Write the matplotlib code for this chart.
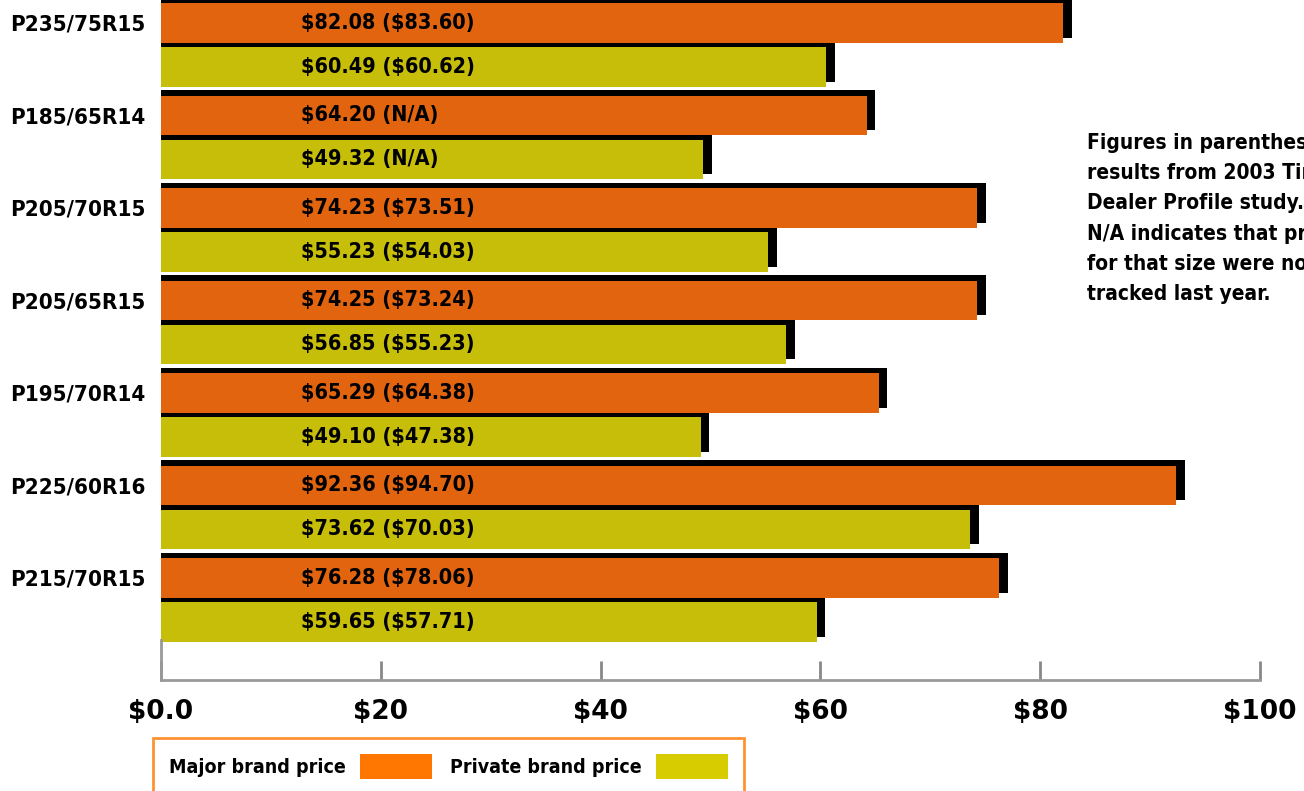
import matplotlib.pyplot as plt
import numpy as np
from matplotlib.patches import Patch

plt.rcParams['font.family'] = ['DejaVu Sans']
plt.rcParams['font.weight'] = 'bold'
plt.rcParams['font.stretch'] = 'condensed'

sizes = ['P235/75R15', 'P185/65R14', 'P205/70R15', 'P205/65R15',
         'P195/70R14', 'P225/60R16', 'P215/70R15']
major = [82.08, 64.20, 74.23, 74.25, 65.29, 92.36, 76.28]
private = [60.49, 49.32, 55.23, 56.85, 49.10, 73.62, 59.65]
major_2003 = ['$83.60', 'N/A', '$73.51', '$73.24', '$64.38', '$94.70', '$78.06']
private_2003 = ['$60.62', 'N/A', '$54.03', '$55.23', '$47.38', '$70.03', '$57.71']

xticks = [0, 20, 40, 60, 80, 100]
xticklabels = ['$0.0', '$20', '$40', '$60', '$80', '$100']

orange = '#E2640F'
olive = '#C6BE08'

fig = plt.figure(figsize=(13.04, 7.91), dpi=100)
ax = fig.add_axes([161/1304, 1 - 680/791, 1099/1304, 680/791])

y = np.arange(len(sizes))
off = 0.238
h = 0.43
# black drop shadows behind the bars
ax.barh(y - off - 0.055, np.array(major) + 0.8, height=h, color='black', zorder=1)
ax.barh(y + off - 0.055, np.array(private) + 0.8, height=h, color='black', zorder=1)
ax.barh(y - off, major, height=h, color=orange, zorder=2)
ax.barh(y + off, private, height=h, color=olive, zorder=2)

def money(s):
    return s.replace('$', r'\$')

for i in range(len(sizes)):
    ax.text(12.7, y[i] - off, money(f'${major[i]:.2f} ({major_2003[i]})'),
            va='center', ha='left', fontsize=15.5, fontweight='bold', zorder=3)
    ax.text(12.7, y[i] + off, money(f'${private[i]:.2f} ({private_2003[i]})'),
            va='center', ha='left', fontsize=15.5, fontweight='bold', zorder=3)

ax.set_xlim(0, 100)
ax.set_ylim(6.865, -0.486)
ax.set_yticks(y - off)
ax.set_yticklabels(sizes, fontsize=16, fontweight='bold')
ax.tick_params(axis='y', length=0, pad=11)
ax.set_xticks(xticks)
ax.set_xticklabels([money(t) for t in xticklabels], fontsize=19,
                   fontweight='bold', fontstretch='normal')
ax.tick_params(axis='x', direction='in', length=14, width=2, color='#888888', pad=14)

for s in ['top', 'right']:
    ax.spines[s].set_visible(False)
ax.spines['bottom'].set_color('#999999')
ax.spines['bottom'].set_linewidth(2)
ax.spines['left'].set_color('#999999')
ax.spines['left'].set_linewidth(2)
ax.spines['left'].set_bounds(6.43, 6.865)

# note runs off the right edge, as in the original
fig.text(1087/1304, 1 - 133/791,
         'Figures in parentheses are\nresults from 2003 Tire\nDealer Profile study.\n'
         'N/A indicates that prices\nfor that size were not\ntracked last year.',
         ha='left', va='top', fontsize=15, fontweight='bold', linespacing=1.64)

handles = [Patch(facecolor='#FF7700'), Patch(facecolor='#D6CC00')]
leg = fig.legend(handles, ['Major brand price', 'Private brand price'],
                 loc='upper left', bbox_to_anchor=(153/1304, 1 - 738/791),
                 ncol=2, markerfirst=False, fontsize=14, frameon=True,
                 fancybox=False, handlelength=3.7, handleheight=1.65,
                 handletextpad=0.77, columnspacing=0.9, borderpad=0.8,
                 borderaxespad=0)
leg.get_frame().set_edgecolor('#FF7700')
leg.get_frame().set_linewidth(2)
for t in leg.get_texts():
    t.set_fontweight('bold')

fig.savefig('out.png', dpi=100)
